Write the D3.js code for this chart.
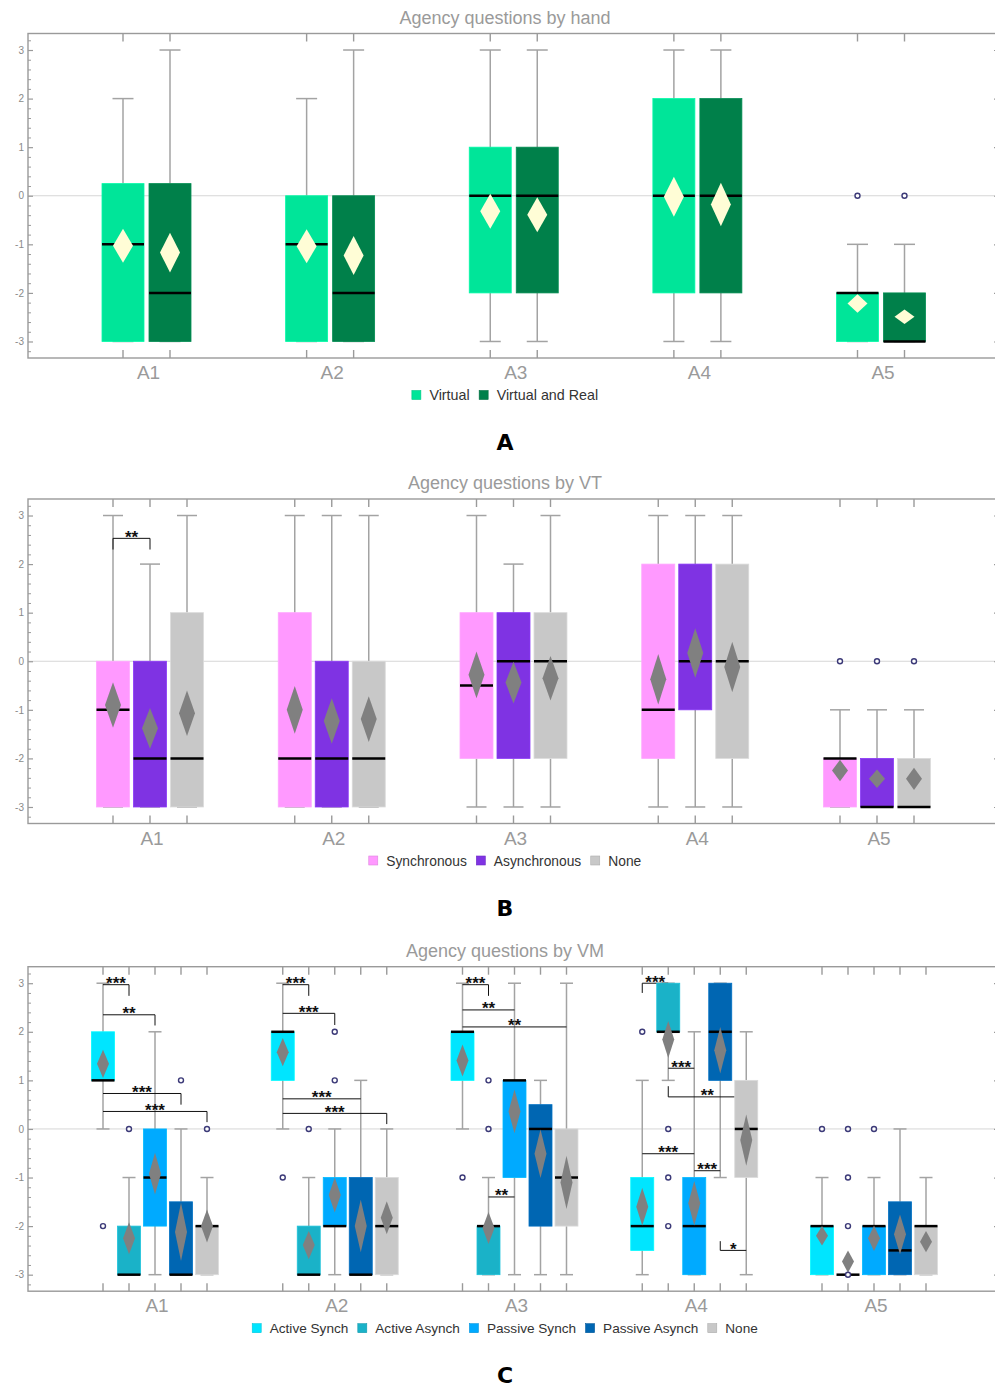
<!DOCTYPE html>
<html><head><meta charset="utf-8">
<script src="https://cdn.jsdelivr.net/npm/d3@7"></script>
<style>body{margin:0;background:#fff} svg{display:block}</style>
</head><body>
<svg id="chart" width="995" height="1388"></svg>
<script>
// ---------- DATA ----------
const categories = ["A1","A2","A3","A4","A5"];
const yTicks = [-3,-2,-1,0,1,2,3];
const yMinorTicks = d3.range(-3.2, 3.21, 0.2).map(v => +v.toFixed(1)).filter(v => Math.abs(v - Math.round(v)) > 0.01);

// each box: [lowWhisker, q1, median, q3, highWhisker]
// Panel A: by hand
const handSeries = ["Virtual","Virtual and Real"];
const handColors = ["#00e599","#00804a"];
const handVirtualBox = [[-3,-3,-1,0.25,2],[-3,-3,-1,0,2],[-3,-2,0,1,3],[-3,-2,0,2,3],[-3,-3,-2,-2,-1]];
const handVirtualMean = [-1.03,-1.04,-0.32,-0.02,-2.22];
const handVirtualCI = [0.35,0.35,0.36,0.41,0.19];
const handVirtualOut = [[],[],[],[],[0]];
const handRealBox = [[-3,-3,-2,0.25,3],[-3,-3,-2,0,3],[-3,-2,0,1,3],[-3,-2,0,2,3],[-3,-3,-3,-2,-1]];
const handRealMean = [-1.17,-1.23,-0.39,-0.18,-2.49];
const handRealCI = [0.41,0.40,0.36,0.45,0.15];
const handRealOut = [[],[],[],[],[0]];

// Panel B: by VT
const vtSeries = ["Synchronous","Asynchronous","None"];
const vtColors = ["#ff99ff","#7f33e3","#c8c8c8"];
const vtSyncBox = [[-3,-3,-1,0,3],[-3,-3,-2,1,3],[-3,-2,-0.5,1,3],[-3,-2,-1,2,3],[-3,-3,-2,-2,-1]];
const vtSyncMean = [-0.9,-1.0,-0.28,-0.37,-2.25];
const vtSyncCI = [0.47,0.49,0.48,0.52,0.22];
const vtSyncOut = [[],[],[],[],[0]];
const vtAsyncBox = [[-3,-3,-2,0,2],[-3,-3,-2,0,3],[-3,-2,0,1,2],[-3,-1,0,2,3],[-3,-3,-3,-2,-1]];
const vtAsyncMean = [-1.38,-1.23,-0.44,0.17,-2.42];
const vtAsyncCI = [0.42,0.47,0.43,0.51,0.19];
const vtAsyncOut = [[],[],[],[],[0]];
const vtNoneBox = [[-3,-3,-2,1,3],[-3,-3,-2,0,3],[-3,-2,0,1,3],[-3,-2,0,2,3],[-3,-3,-3,-2,-1]];
const vtNoneMean = [-1.07,-1.19,-0.35,-0.12,-2.42];
const vtNoneCI = [0.47,0.47,0.46,0.52,0.23];
const vtNoneOut = [[],[],[],[],[0]];
// [category, series i, series j, line value, leg i end, leg j end, label]
const vtBrackets = [["A1",0,1,2.53,2.30,2.30,"**"]];

// Panel C: by VM
const vmSeries = ["Active Synch","Active Asynch","Passive Synch","Passive Asynch","None"];
const vmColors = ["#00e5ff","#1ab2c8","#00aaff","#0066b2","#c8c8c8"];
const vmActSyncBox = [[0,1,1,2,3],[0,1,2,2,3],[0,1,2,2,3],[-3,-2.5,-2,-1,1],[-3,-3,-2,-2,-1]];
const vmActSyncMean = [1.34,1.58,1.41,-1.6,-2.2];
const vmActSyncCI = [0.29,0.29,0.33,0.39,0.2];
const vmActSyncOut = [[-2],[-1],[-1],[2],[0]];
const vmActAsyncBox = [[-3,-3,-3,-2,-1],[-3,-3,-3,-2,-1],[-3,-3,-2,-2,-1],[1,2,2,3,3],[-3,-3,-3,-3,-3]];
const vmActAsyncMean = [-2.25,-2.39,-2.04,1.84,-2.73];
const vmActAsyncCI = [0.33,0.29,0.33,0.38,0.23];
const vmActAsyncOut = [[0],[0],[1,0],[0,-1,-2],[0,-1,-2,-3]];
const vmPasSyncBox = [[-3,-2,-1,0,2],[-3,-2,-2,-1,0],[-3,-1,1,1,3],[-3,-3,-2,-1,2],[-3,-3,-2,-2,-1]];
const vmPasSyncMean = [-0.92,-1.36,0.36,-1.53,-2.25];
const vmPasSyncCI = [0.43,0.36,0.45,0.46,0.26];
const vmPasSyncOut = [[],[2,1],[],[],[0]];
const vmPasAsyncBox = [[-3,-3,-3,-1.5,0],[-3,-3,-3,-1,1],[-3,-2,0,0.5,1],[-1,1,2,3,3],[-3,-3,-2.5,-1.5,0]];
const vmPasAsyncMean = [-2.12,-2.0,-0.51,1.62,-2.17];
const vmPasAsyncCI = [0.6,0.54,0.5,0.48,0.41];
const vmPasAsyncOut = [[1],[],[],[],[]];
const vmNoneBox = [[-3,-3,-2,-2,-1],[-3,-3,-2,-1,0],[-3,-2,-1,0,3],[-3,-1,0,1,2],[-3,-3,-2,-2,-1]];
const vmNoneMean = [-2.0,-1.83,-1.1,-0.23,-2.32];
const vmNoneCI = [0.34,0.34,0.55,0.53,0.22];
const vmNoneOut = [[0],[],[],[],[]];
const vmBrackets = [
  ["A1",0,1,2.97,2.97,2.74,"***"],
  ["A1",0,2,2.35,2.35,2.13,"**"],
  ["A1",0,3,0.73,0.73,0.50,"***"],
  ["A1",0,4,0.36,0.36,0.14,"***"],
  ["A2",0,1,2.97,2.97,2.74,"***"],
  ["A2",0,2,2.38,2.38,2.14,"***"],
  ["A2",0,3,0.62,0.62,0.62,"***"],
  ["A2",0,4,0.32,0.32,0.10,"***"],
  ["A3",0,1,2.97,2.97,2.74,"***"],
  ["A3",0,2,2.45,2.45,2.45,"**"],
  ["A3",0,4,2.10,2.10,2.10,"**"],
  ["A3",1,2,-1.40,-1.40,-1.40,"**"],
  ["A4",0,1,3.00,2.80,3.00,"***"],
  ["A4",1,2,1.25,1.25,1.25,"***"],
  ["A4",1,4,0.66,0.88,0.66,"**"],
  ["A4",0,2,-0.51,-0.51,-0.51,"***"],
  ["A4",2,3,-0.86,-0.86,-0.86,"***"],
  ["A4",3,4,-2.50,-2.31,-2.50,"*"]
];

// ---------- DRAW ----------
const svg = d3.select("#chart");
const FONT = "'Liberation Sans', Arial, sans-serif";

function drawPanel(cfg) {
  const L = 28, R = 999, T = cfg.top, B = cfg.top + 324.5;
  const g = svg.append("g");
  const y = d3.scaleLinear().domain([-3.34, 3.34]).range([B, T]);
  const xg = d3.scalePoint().domain(categories).range(cfg.range);
  const xs = d3.scalePoint().domain(d3.range(cfg.series.length)).range([-cfg.spread, cfg.spread]);
  const cxOf = (c, si) => xg(c) + (cfg.series.length > 1 ? xs(si) : 0);

  // title
  g.append("text").attr("x", 505).attr("y", T - 10).attr("text-anchor", "middle")
    .attr("font-family", FONT).attr("font-size", 18).attr("fill", "#9a9a9a").text(cfg.title);

  // zero grid line
  g.append("line").attr("x1", L).attr("x2", R).attr("y1", y(0)).attr("y2", y(0))
    .attr("stroke", "#d6d6d6").attr("stroke-width", 1);

  const items = [];
  cfg.series.forEach((s, si) => {
    categories.forEach((c, ci) => {
      const [lo, q1, med, q3, hi] = cfg.boxes[si][ci];
      items.push({si, c, cx: cxOf(c, si), lo, q1, med, q3, hi,
        mean: cfg.means[si][ci], ci: cfg.cis[si][ci], out: cfg.outs[si][ci], color: cfg.colors[si]});
    });
  });

  // whiskers
  const wg = g.append("g").attr("stroke", "#a3a3a3").attr("stroke-width", 1.5).attr("fill", "none");
  items.forEach(d => {
    if (d.hi > d.q3) wg.append("line").attr("x1", d.cx).attr("x2", d.cx).attr("y1", y(d.q3)).attr("y2", y(d.hi));
    if (d.lo < d.q1) wg.append("line").attr("x1", d.cx).attr("x2", d.cx).attr("y1", y(d.q1)).attr("y2", y(d.lo));
    [d.lo, d.hi].forEach(v => wg.append("line").attr("x1", d.cx - cfg.capW / 2).attr("x2", d.cx + cfg.capW / 2)
      .attr("y1", y(v)).attr("y2", y(v)));
  });

  // brackets (lines)
  const bg = g.append("g").attr("stroke", "#111").attr("stroke-width", 1).attr("fill", "none");
  (cfg.brackets || []).forEach(b => {
    const [c, i, j, v, li, lj] = b;
    const x1 = cxOf(c, i), x2 = cxOf(c, j);
    bg.append("path").attr("d", `M${x1},${y(li)}L${x1},${y(v)}L${x2},${y(v)}L${x2},${y(lj)}`);
  });

  // boxes
  items.forEach(d => {
    g.append("rect").attr("x", d.cx - cfg.boxW / 2).attr("width", cfg.boxW)
      .attr("y", y(d.q3)).attr("height", Math.max(0, y(d.q1) - y(d.q3)))
      .attr("fill", d.color).attr("stroke", d3.color(d.color).brighter(0.25)).attr("stroke-width", 0.8);
  });
  // medians
  items.forEach(d => {
    g.append("line").attr("x1", d.cx - cfg.boxW / 2).attr("x2", d.cx + cfg.boxW / 2)
      .attr("y1", y(d.med)).attr("y2", y(d.med)).attr("stroke", "#000").attr("stroke-width", 2.5);
  });
  // diamonds
  items.forEach(d => {
    const w = cfg.diamondW / 2;
    g.append("path").attr("d", `M${d.cx},${y(d.mean + d.ci)}L${d.cx + w},${y(d.mean)}L${d.cx},${y(d.mean - d.ci)}L${d.cx - w},${y(d.mean)}Z`)
      .attr("fill", cfg.diamondColor);
  });
  // outliers
  items.forEach(d => {
    d.out.forEach(v => g.append("circle").attr("cx", d.cx).attr("cy", y(v)).attr("r", 2.5)
      .attr("fill", "#fff").attr("stroke", "#3c3a78").attr("stroke-width", 1.4));
  });
  // bracket labels
  (cfg.brackets || []).forEach(b => {
    const [c, i, j, v, , , lab] = b;
    const x1 = cxOf(c, i), x2 = cxOf(c, j);
    g.append("text").attr("x", (x1 + x2) / 2).attr("y", y(v) + 4.5).attr("text-anchor", "middle")
      .attr("font-family", FONT).attr("font-weight", "bold").attr("font-size", 17).attr("fill", "#111").text(lab);
  });

  // frame
  g.append("rect").attr("x", L).attr("y", T).attr("width", R - L).attr("height", B - T)
    .attr("fill", "none").attr("stroke", "#9a9a9a").attr("stroke-width", 1.4);
  // y axes
  const ax = g.append("g").attr("transform", `translate(${L},0)`)
    .call(d3.axisLeft(y).tickValues(yTicks).tickSizeInner(-5).tickSizeOuter(0).tickPadding(4).tickFormat(d => d));
  ax.select(".domain").remove();
  ax.selectAll("line").attr("stroke", "#9a9a9a").attr("stroke-width", 1.2);
  ax.selectAll("text").attr("font-family", FONT).attr("font-size", 10).attr("fill", "#8a8a8a");
  const axm = g.append("g").attr("transform", `translate(${L},0)`)
    .call(d3.axisLeft(y).tickValues(yMinorTicks).tickSizeInner(-3).tickSizeOuter(0).tickFormat(""));
  axm.select(".domain").remove();
  axm.selectAll("line").attr("stroke", "#9a9a9a");
  const axr = g.append("g").attr("transform", `translate(${R},0)`)
    .call(d3.axisRight(y).tickValues(yTicks).tickSizeInner(-5).tickSizeOuter(0).tickFormat(""));
  axr.select(".domain").remove();
  axr.selectAll("line").attr("stroke", "#9a9a9a").attr("stroke-width", 1.2);

  // x ticks (top & bottom) at each box
  items.forEach(d => {
    g.append("line").attr("x1", d.cx).attr("x2", d.cx).attr("y1", B).attr("y2", B - 8).attr("stroke", "#9a9a9a").attr("stroke-width", 1.4);
    g.append("line").attr("x1", d.cx).attr("x2", d.cx).attr("y1", T).attr("y2", T + 8).attr("stroke", "#9a9a9a").attr("stroke-width", 1.4);
  });
  // category labels
  categories.forEach(c => g.append("text").attr("x", xg(c) + 2).attr("y", B + 21).attr("text-anchor", "middle")
    .attr("font-family", FONT).attr("font-size", 19).attr("fill", "#9a9a9a").text(c));

  // legend
  const lg = g.append("g");
  let xpos = 0;
  cfg.series.forEach((s, si) => {
    lg.append("rect").attr("x", xpos).attr("y", -4.5).attr("width", 9).attr("height", 9)
      .attr("fill", cfg.colors[si]).attr("stroke", d3.color(cfg.colors[si]).darker(0.4)).attr("stroke-width", 0.6);
    const t = lg.append("text").attr("x", xpos + 17.5).attr("y", 5).attr("font-family", FONT)
      .attr("font-size", cfg.legendSize).attr("fill", "#333").text(s);
    xpos += 17.5 + t.node().getComputedTextLength() + 9.5;
  });
  const lw = xpos - 9.5;
  lg.attr("transform", `translate(${505 - lw / 2},${B + 37})`);

  // panel letter
  g.append("text").attr("x", 505).attr("y", B + 92).attr("text-anchor", "middle")
    .attr("font-family", "'DejaVu Sans', sans-serif").attr("font-weight", "bold").attr("font-size", 22)
    .attr("fill", "#000").text(cfg.letter);
}

drawPanel({
  top: 33.5, title: "Agency questions by hand", letter: "A",
  series: handSeries, colors: handColors,
  boxes: [handVirtualBox, handRealBox], means: [handVirtualMean, handRealMean],
  cis: [handVirtualCI, handRealCI], outs: [handVirtualOut, handRealOut],
  range: [146.5, 881], spread: 23.5, boxW: 42, capW: 21, diamondW: 20, diamondColor: "#fffdd6",
  brackets: [], legendSize: 14.3
});
drawPanel({
  top: 499, title: "Agency questions by VT", letter: "B",
  series: vtSeries, colors: vtColors,
  boxes: [vtSyncBox, vtAsyncBox, vtNoneBox], means: [vtSyncMean, vtAsyncMean, vtNoneMean],
  cis: [vtSyncCI, vtAsyncCI, vtNoneCI], outs: [vtSyncOut, vtAsyncOut, vtNoneOut],
  range: [150, 877], spread: 37, boxW: 33, capW: 20, diamondW: 16, diamondColor: "#808080",
  brackets: vtBrackets, legendSize: 13.8
});
drawPanel({
  top: 966.7, title: "Agency questions by VM", letter: "C",
  series: vmSeries, colors: vmColors,
  boxes: [vmActSyncBox, vmActAsyncBox, vmPasSyncBox, vmPasAsyncBox, vmNoneBox],
  means: [vmActSyncMean, vmActAsyncMean, vmPasSyncMean, vmPasAsyncMean, vmNoneMean],
  cis: [vmActSyncCI, vmActAsyncCI, vmPasSyncCI, vmPasAsyncCI, vmNoneCI],
  outs: [vmActSyncOut, vmActAsyncOut, vmPasSyncOut, vmPasAsyncOut, vmNoneOut],
  range: [155, 874], spread: 52, boxW: 23, capW: 13, diamondW: 12, diamondColor: "#808080",
  brackets: vmBrackets, legendSize: 13.6
});
</script>
</body></html>
